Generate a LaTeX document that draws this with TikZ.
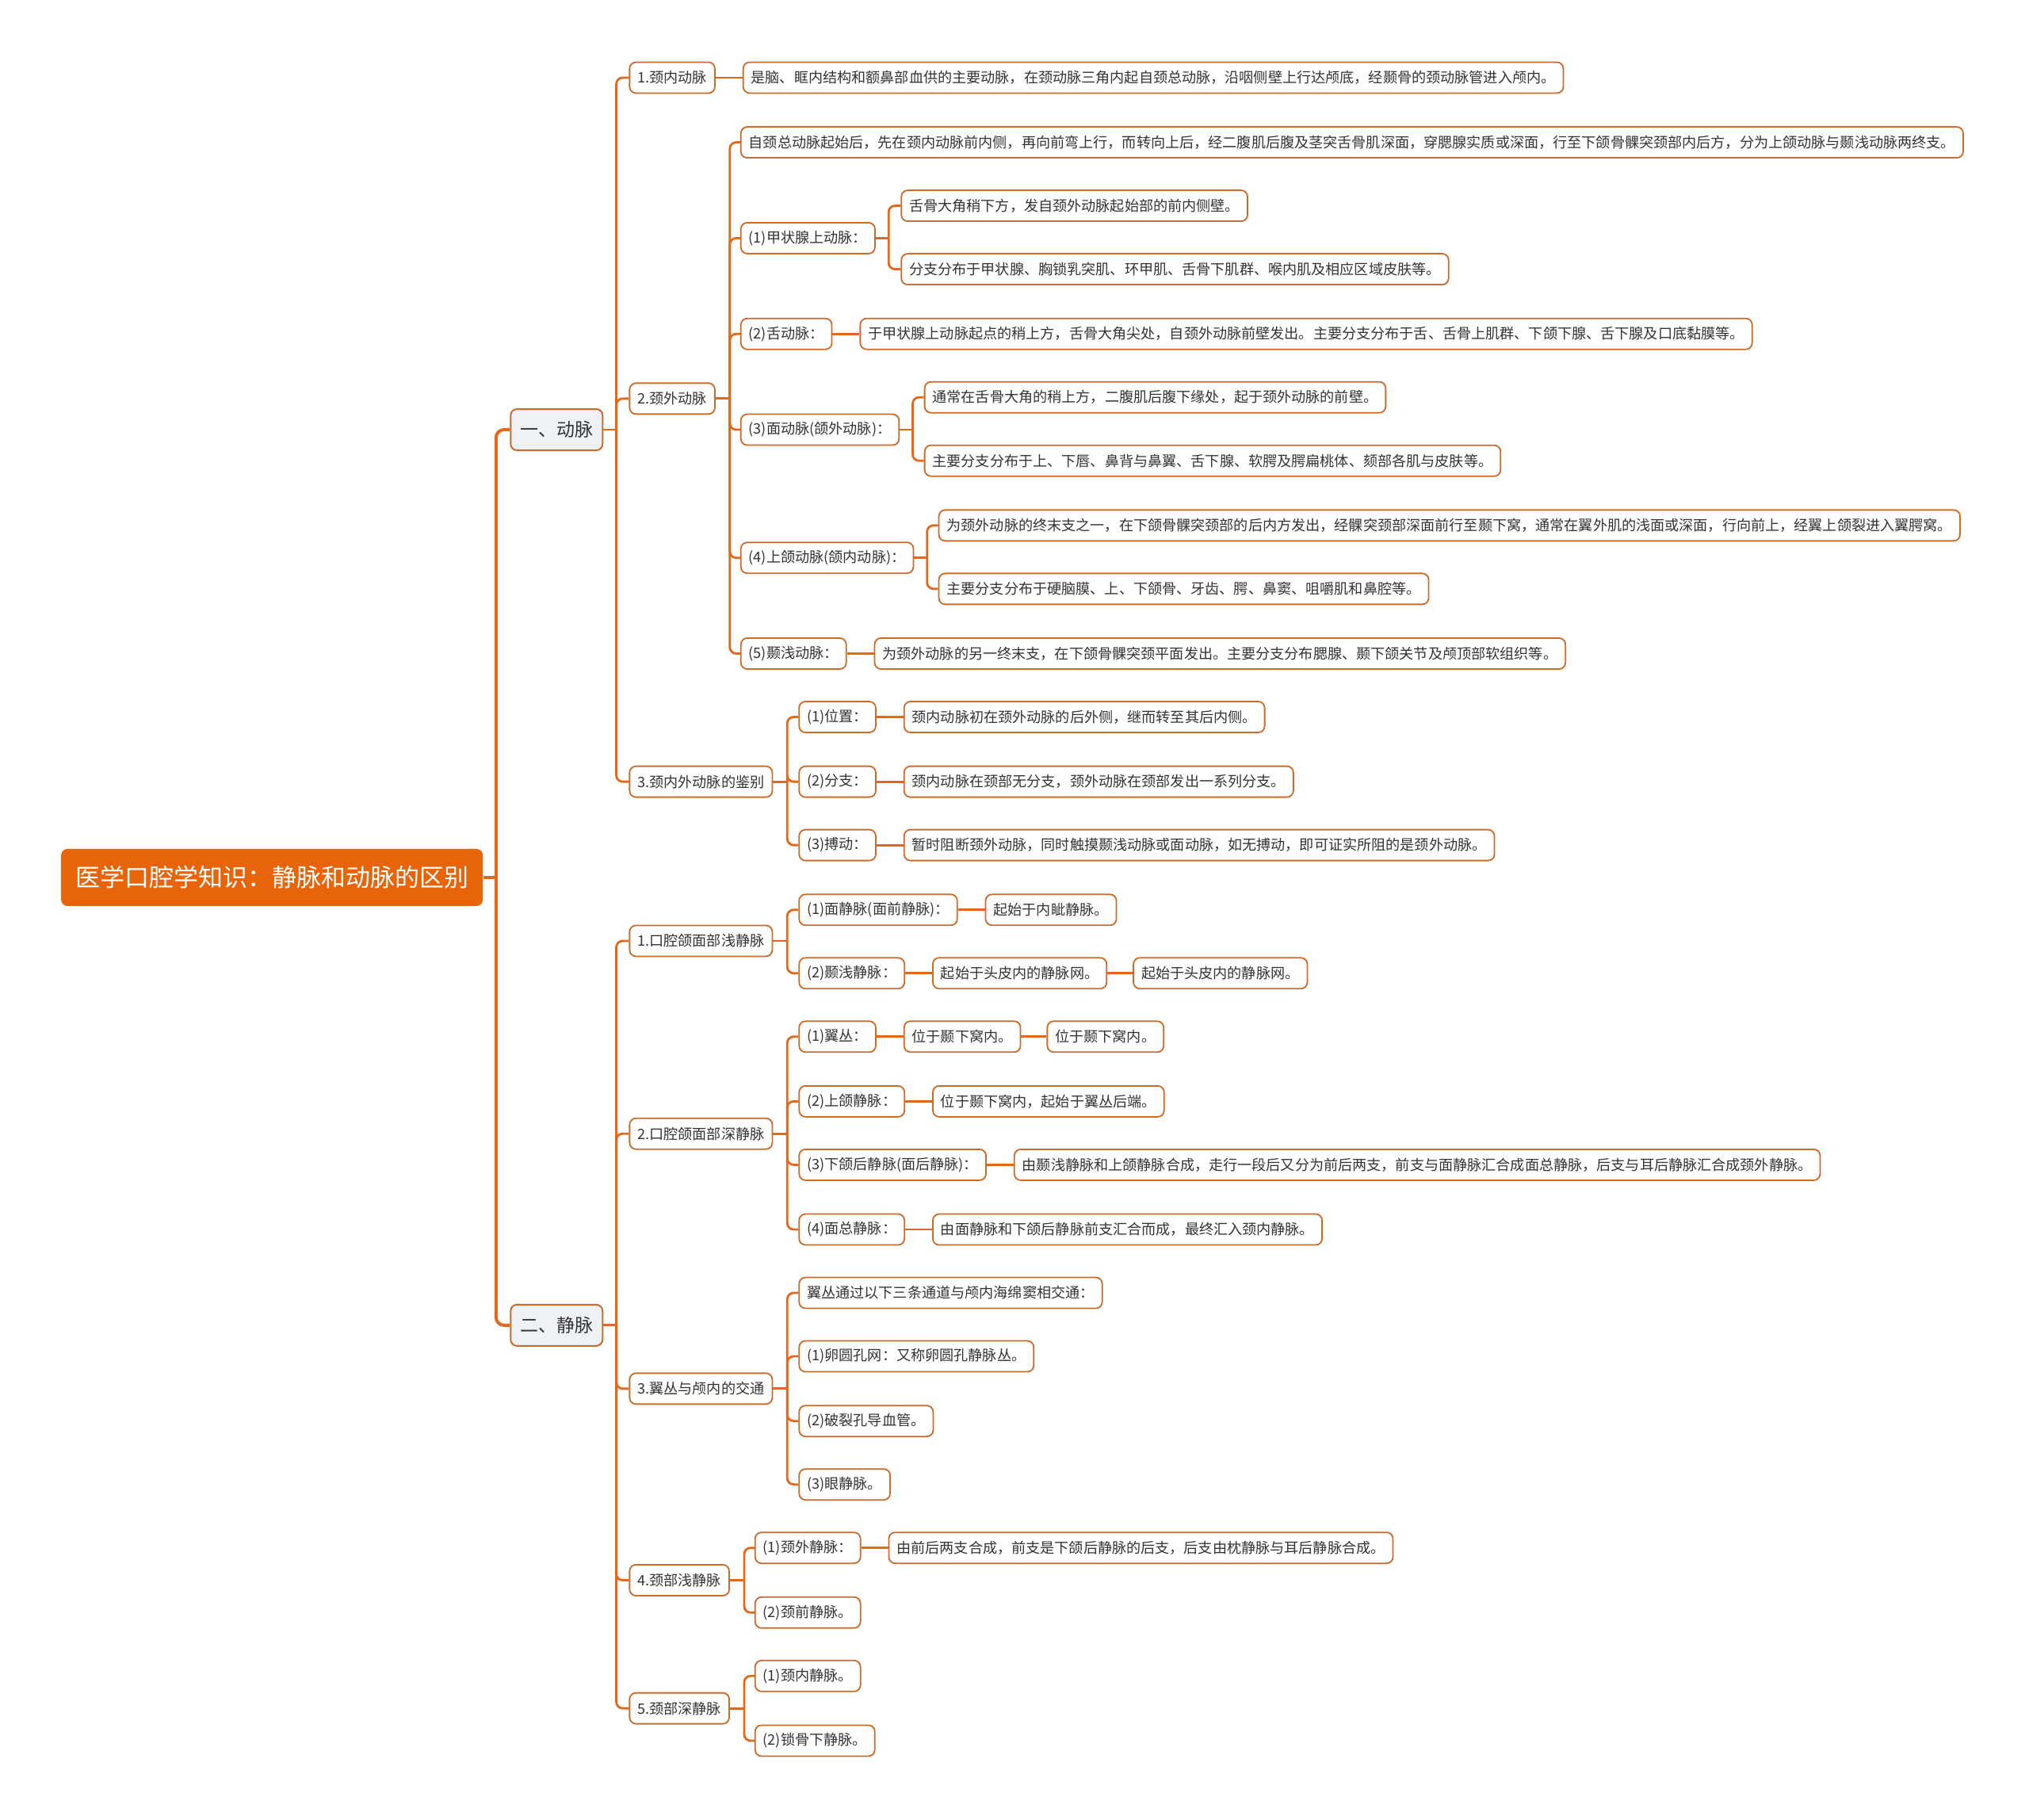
\documentclass[tikz,border=0pt]{standalone}
\usepackage{fontspec}
\setmainfont{Noto Sans CJK SC}
\usepackage{tikz}
\usetikzlibrary{positioning}
\definecolor{myorange}{RGB}{232,100,10}
\definecolor{myline}{RGB}{226,104,28}
\definecolor{myborder}{RGB}{205,106,42}
\definecolor{mygray}{RGB}{238,241,245}
\definecolor{mytext}{RGB}{51,51,51}
\tikzset{
  topic/.style={rectangle, fill=myorange, text=white, rounded corners=4pt,
    minimum height=36pt, inner xsep=9pt, font=\fontsize{15.5pt}{18pt}\selectfont},
  branch/.style={rectangle, draw=myborder, fill=mygray, text=mytext, rounded corners=4pt,
    minimum height=26pt, inner xsep=6pt, line width=1pt, font=\fontsize{11.5pt}{14pt}\selectfont},
  leaf/.style={rectangle, draw=myborder, fill=white, text=mytext, rounded corners=4pt,
    minimum height=19.5pt, inner xsep=5pt, line width=0.9pt, font=\fontsize{9.06pt}{11pt}\selectfont},
  link/.style={draw=myline, line width=1.4pt, rounded corners=4pt},
  mainlink/.style={draw=myline, line width=2pt, rounded corners=5pt}
}

\begin{document}
\begin{tikzpicture}[x=0.8163pt, y=-0.8163pt, every node/.append style={anchor=west}]
  \useasboundingbox (0,0) rectangle (1568,1406);

  % Root and main branches
  \node[topic] (root) at (47,678) {医学口腔学知识：静脉和动脉的区别};
  \node[branch] (art) at (394,332) {一、动脉};
  \node[branch] (vein) at (394,1024) {二、静脉};
  \draw[mainlink] (root.east) -- ++(10,0) coordinate (j0);
  \foreach \c in {art,vein} \draw[mainlink] (j0) |- (\c.west);

  % Arteries
  \node[leaf] (art1) at (486,60) {1.颈内动脉};
  \node[leaf] (art2) at (486,308) {2.颈外动脉};
  \node[leaf] (art3) at (486,604) {3.颈内外动脉的鉴别};
  \draw[link] (art.east) -- ++(10,0) coordinate (ja);
  \foreach \c in {art1,art2,art3} \draw[link] (ja) |- (\c.west);

  \node[leaf, right=17pt of art1] (art1t) {是脑、眶内结构和额鼻部血供的主要动脉，在颈动脉三角内起自颈总动脉，沿咽侧壁上行达颅底，经颞骨的颈动脉管进入颅内。};
  \draw[link] (art1) -- (art1t);

  % External carotid
  \node[leaf] (art2t) at (572,110) {自颈总动脉起始后，先在颈内动脉前内侧，再向前弯上行，而转向上后，经二腹肌后腹及茎突舌骨肌深面，穿腮腺实质或深面，行至下颌骨髁突颈部内后方，分为上颌动脉与颞浅动脉两终支。};
  \node[leaf] (sup) at (572,184) {(1)甲状腺上动脉：};
  \node[leaf] (ling) at (572,258) {(2)舌动脉：};
  \node[leaf] (fac) at (572,332) {(3)面动脉(颌外动脉)：};
  \node[leaf] (max) at (572,431) {(4)上颌动脉(颌内动脉)：};
  \node[leaf] (tem) at (572,505) {(5)颞浅动脉：};
  \draw[link] (art2.east) -- ++(11,0) coordinate (jb);
  \foreach \c in {art2t,sup,ling,fac,max,tem} \draw[link] (jb) |- (\c.west);

  \node[leaf] (supa) at (696,159) {舌骨大角稍下方，发自颈外动脉起始部的前内侧壁。};
  \node[leaf] (supb) at (696,208) {分支分布于甲状腺、胸锁乳突肌、环甲肌、舌骨下肌群、喉内肌及相应区域皮肤等。};
  \draw[link] (sup.east) -- ++(10,0) coordinate (jc);
  \foreach \c in {supa,supb} \draw[link] (jc) |- (\c.west);

  \node[leaf, right=17pt of ling] (lingt) {于甲状腺上动脉起点的稍上方，舌骨大角尖处，自颈外动脉前壁发出。主要分支分布于舌、舌骨上肌群、下颌下腺、舌下腺及口底黏膜等。};
  \draw[link] (ling) -- (lingt);

  \node[leaf] (faca) at (714,307) {通常在舌骨大角的稍上方，二腹肌后腹下缘处，起于颈外动脉的前壁。};
  \node[leaf] (facb) at (714,356) {主要分支分布于上、下唇、鼻背与鼻翼、舌下腺、软腭及腭扁桃体、颏部各肌与皮肤等。};
  \draw[link] (fac.east) -- ++(10,0) coordinate (jd);
  \foreach \c in {faca,facb} \draw[link] (jd) |- (\c.west);

  \node[leaf] (maxa) at (725,406) {为颈外动脉的终末支之一，在下颌骨髁突颈部的后内方发出，经髁突颈部深面前行至颞下窝，通常在翼外肌的浅面或深面，行向前上，经翼上颌裂进入翼腭窝。};
  \node[leaf] (maxb) at (725,455) {主要分支分布于硬脑膜、上、下颌骨、牙齿、腭、鼻窦、咀嚼肌和鼻腔等。};
  \draw[link] (max.east) -- ++(10,0) coordinate (je);
  \foreach \c in {maxa,maxb} \draw[link] (je) |- (\c.west);

  \node[leaf, right=17pt of tem] (temt) {为颈外动脉的另一终末支，在下颌骨髁突颈平面发出。主要分支分布腮腺、颞下颌关节及颅顶部软组织等。};
  \draw[link] (tem) -- (temt);

  % Internal vs external
  \node[leaf] (pos) at (617,554) {(1)位置：};
  \node[leaf] (br) at (617,604) {(2)分支：};
  \node[leaf] (pul) at (617,653) {(3)搏动：};
  \draw[link] (art3.east) -- ++(11,0) coordinate (jf);
  \foreach \c in {pos,br,pul} \draw[link] (jf) |- (\c.west);
  \node[leaf, right=17pt of pos] (posT) {颈内动脉初在颈外动脉的后外侧，继而转至其后内侧。};
  \node[leaf, right=17pt of br] (brT) {颈内动脉在颈部无分支，颈外动脉在颈部发出一系列分支。};
  \node[leaf, right=17pt of pul] (pulT) {暂时阻断颈外动脉，同时触摸颞浅动脉或面动脉，如无搏动，即可证实所阻的是颈外动脉。};
  \draw[link] (pos) -- (posT);
  \draw[link] (br) -- (brT);
  \draw[link] (pul) -- (pulT);

  % Veins
  \node[leaf] (vein1) at (486,727) {1.口腔颌面部浅静脉};
  \node[leaf] (vein2) at (486,876) {2.口腔颌面部深静脉};
  \node[leaf] (vein3) at (486,1073) {3.翼丛与颅内的交通};
  \node[leaf] (vein4) at (486,1221) {4.颈部浅静脉};
  \node[leaf] (vein5) at (486,1320) {5.颈部深静脉};
  \draw[link] (vein.east) -- ++(10,0) coordinate (jv);
  \foreach \c in {vein1,vein2,vein3,vein4,vein5} \draw[link] (jv) |- (\c.west);

  % Superficial facial veins
  \node[leaf] (fv) at (617,703) {(1)面静脉(面前静脉)：};
  \node[leaf] (tv) at (617,752) {(2)颞浅静脉：};
  \draw[link] (vein1.east) -- ++(11,0) coordinate (jg);
  \foreach \c in {fv,tv} \draw[link] (jg) |- (\c.west);
  \node[leaf, right=17pt of fv] (fvT) {起始于内眦静脉。};
  \node[leaf, right=17pt of tv] (tvA) {起始于头皮内的静脉网。};
  \node[leaf, right=16pt of tvA] (tvB) {起始于头皮内的静脉网。};
  \draw[link] (fv) -- (fvT);
  \draw[link] (tv) -- (tvA);
  \draw[link] (tvA) -- (tvB);

  % Deep facial veins
  \node[leaf] (pp) at (617,801) {(1)翼丛：};
  \node[leaf] (mv) at (617,851) {(2)上颌静脉：};
  \node[leaf] (rv) at (617,900) {(3)下颌后静脉(面后静脉)：};
  \node[leaf] (cf) at (617,950) {(4)面总静脉：};
  \draw[link] (vein2.east) -- ++(11,0) coordinate (jh);
  \foreach \c in {pp,mv,rv,cf} \draw[link] (jh) |- (\c.west);
  \node[leaf, right=17pt of pp] (ppA) {位于颞下窝内。};
  \node[leaf, right=16pt of ppA] (ppB) {位于颞下窝内。};
  \node[leaf, right=17pt of mv] (mvT) {位于颞下窝内，起始于翼丛后端。};
  \node[leaf, right=17pt of rv] (rvT) {由颞浅静脉和上颌静脉合成，走行一段后又分为前后两支，前支与面静脉汇合成面总静脉，后支与耳后静脉汇合成颈外静脉。};
  \node[leaf, right=17pt of cf] (cfT) {由面静脉和下颌后静脉前支汇合而成，最终汇入颈内静脉。};
  \draw[link] (pp) -- (ppA);
  \draw[link] (ppA) -- (ppB);
  \draw[link] (mv) -- (mvT);
  \draw[link] (rv) -- (rvT);
  \draw[link] (cf) -- (cfT);

  % Pterygoid plexus communications
  \node[leaf] (v3a) at (617,999) {翼丛通过以下三条通道与颅内海绵窦相交通：};
  \node[leaf] (v3b) at (617,1048) {(1)卵圆孔网：又称卵圆孔静脉丛。};
  \node[leaf] (v3c) at (617,1098) {(2)破裂孔导血管。};
  \node[leaf] (v3d) at (617,1147) {(3)眼静脉。};
  \draw[link] (vein3.east) -- ++(11,0) coordinate (ji);
  \foreach \c in {v3a,v3b,v3c,v3d} \draw[link] (ji) |- (\c.west);

  % Neck veins
  \node[leaf] (ej) at (583,1196) {(1)颈外静脉：};
  \node[leaf] (aj) at (583,1246) {(2)颈前静脉。};
  \draw[link] (vein4.east) -- ++(11,0) coordinate (jk);
  \foreach \c in {ej,aj} \draw[link] (jk) |- (\c.west);
  \node[leaf, right=17pt of ej] (ejT) {由前后两支合成，前支是下颌后静脉的后支，后支由枕静脉与耳后静脉合成。};
  \draw[link] (ej) -- (ejT);

  \node[leaf] (ij) at (583,1295) {(1)颈内静脉。};
  \node[leaf] (sc) at (583,1345) {(2)锁骨下静脉。};
  \draw[link] (vein5.east) -- ++(11,0) coordinate (jl);
  \foreach \c in {ij,sc} \draw[link] (jl) |- (\c.west);
\end{tikzpicture}
\end{document}
